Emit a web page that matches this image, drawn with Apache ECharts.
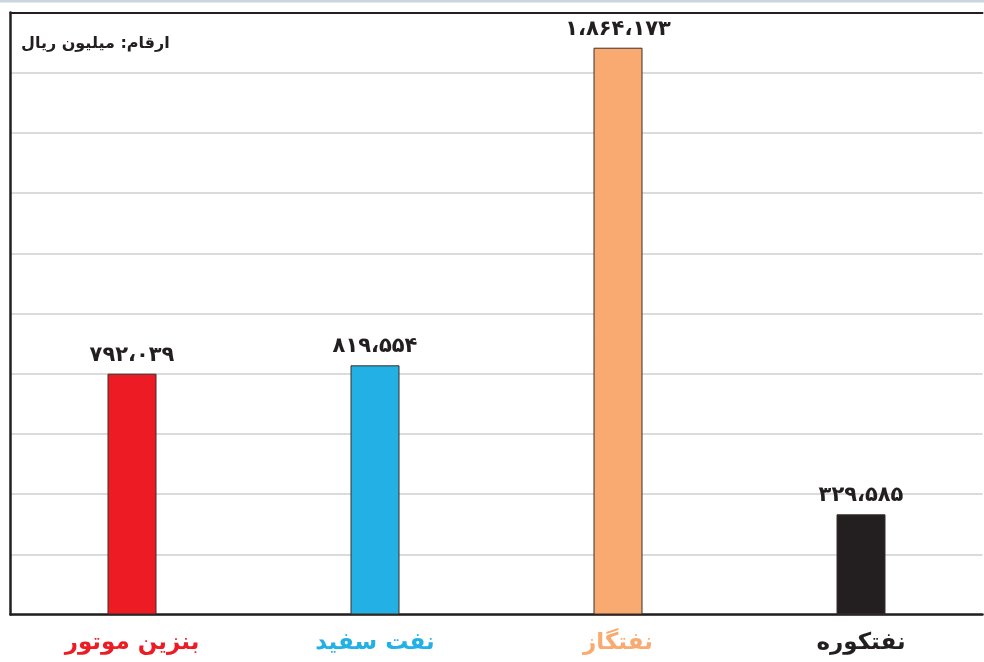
<!DOCTYPE html>
<html>
<head>
<meta charset="utf-8">
<script src="https://cdn.jsdelivr.net/npm/echarts@6/dist/echarts.min.js"></script>
<style>
html,body{margin:0;padding:0;background:#fff;}
#c{width:984px;height:662px;}
</style>
</head>
<body>
<div id="c"></div>
<script>
const categories = ['بنزین موتور', 'نفت سفید', 'نفتگاز', 'نفتکوره'];
const values = [792039, 819554, 1864173, 329585];
const barColors = ['#ED1C24', '#22B0E5', '#F8AA70', '#231F20'];
const unitText = 'ارقام: میلیون ریال';
const yMax = 1980000;
const yInterval = 198000;

const faDigits = '۰۱۲۳۴۵۶۷۸۹';
function toFa(n) {
  const s = String(n).replace(/\B(?=(\d{3})+(?!\d))/g, '،');
  return s.replace(/\d/g, d => faDigits[+d]);
}

const FONT = 'DejaVu Sans';
const chart = echarts.init(document.getElementById('c'), null, {renderer: 'canvas'});
chart.setOption({
  animation: false,
  backgroundColor: '#ffffff',
  graphic: [{
    type: 'rect', left: 0, top: 0, shape: {width: 984, height: 2.5},
    style: {fill: '#C9D6DF'}, silent: true
  }],
  title: {
    text: unitText, left: 16, top: 31,
    textStyle: {fontFamily: FONT, fontSize: 16, fontWeight: 'bold', color: '#231F20'}
  },
  grid: {left: 10.5, top: 12.5, width: 972, height: 602, containLabel: false, outerBoundsMode: 'none'},
  xAxis: [{
    type: 'category', data: categories, position: 'bottom',
    axisLine: {show: true, lineStyle: {color: '#231F20', width: 2.5}},
    axisTick: {show: false},
    axisLabel: {
      margin: 17, fontFamily: FONT, fontSize: 23, fontWeight: 'bold',
      color: (v, i) => barColors[i]
    }
  }, {
    type: 'category', data: categories, position: 'top',
    axisLine: {show: true, lineStyle: {color: '#231F20', width: 2}},
    axisTick: {show: false}, axisLabel: {show: false}
  }],
  yAxis: {
    type: 'value', min: 0, max: yMax, interval: yInterval,
    axisLine: {show: true, lineStyle: {color: '#231F20', width: 2.5}},
    axisTick: {show: false}, axisLabel: {show: false},
    splitLine: {show: true, lineStyle: {color: '#CFCFCF', width: 1.5}}
  },
  series: [{
    type: 'bar', xAxisIndex: 0, barWidth: 49,
    data: values.map((v, i) => ({
      value: v,
      itemStyle: {color: barColors[i], borderColor: '#3A2E2A', borderWidth: 1}
    })),
    label: {
      show: true, position: 'top', distance: 8,
      formatter: p => toFa(p.value),
      fontFamily: FONT, fontSize: 21, fontWeight: 'bold', color: '#231F20'
    }
  }]
});
</script>
</body>
</html>
